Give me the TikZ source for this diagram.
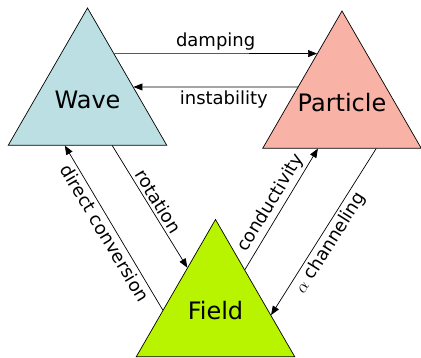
\documentclass[tikz,border=0pt]{standalone}
\usepackage{fontspec}
\setmainfont{DejaVu Sans}
\usepackage{amsmath, amssymb}
\usepackage{tikz}
\usetikzlibrary{arrows.meta, calc, shapes.geometric}

\definecolor{wavecol}{RGB}{187,223,227}
\definecolor{partcol}{RGB}{249,178,166}
\definecolor{fieldcol}{RGB}{184,244,0}

\begin{document}
\begin{tikzpicture}[x=1pt, y=-1pt,
  tri/.style={regular polygon, regular polygon sides=3, draw, line width=0.7pt,
    minimum size=183pt, inner sep=0pt, font=\fontsize{24}{28}\selectfont},
  link/.style={line width=0.7pt, -{Triangle[length=9pt, width=7pt]}},
  lbl/.style={font=\fontsize{18}{21}\selectfont},
  slbl/.style={lbl, sloped, inner sep=3pt}]
\useasboundingbox (0,0) rectangle (421,358);
\node[tri, fill=wavecol] (wave) at (87.5,99.5) {\makebox[0pt]{Wave}};
\node[tri, fill=partcol] (particle) at (342,102.5) {\makebox[0pt]{Particle}};
\node[tri, fill=fieldcol] (field) at (215.5,311) {\makebox[0pt]{Field}};
% wave <-> particle
\draw[link] ($(wave.corner 1)!0.335!(wave.corner 3)$) -- ($(particle.corner 1)!0.313!(particle.corner 2)$)
  node[midway, above, lbl] {damping};
\draw[link] ($(particle.corner 1)!0.554!(particle.corner 2)$) -- ($(wave.corner 1)!0.576!(wave.corner 3)$)
  node[pos=0.45, below, lbl] {instability};
% wave <-> field
\draw[link] ($(wave.corner 2)!0.655!(wave.corner 3)$) -- ($(field.corner 1)!0.353!(field.corner 2)$)
  node[midway, above, slbl] {rotation};
\draw[link] ($(field.corner 1)!0.66!(field.corner 2)$) -- ($(wave.corner 2)!0.358!(wave.corner 3)$)
  node[midway, below, slbl] {direct conversion};
% field <-> particle
\draw[link] ($(field.corner 1)!0.368!(field.corner 3)$) -- ($(particle.corner 2)!0.349!(particle.corner 3)$)
  node[midway, above, slbl] {conductivity};
\draw[link] ($(particle.corner 2)!0.714!(particle.corner 3)$) -- ($(field.corner 1)!0.696!(field.corner 3)$)
  node[pos=0.53, below, slbl] {$\alpha$ channeling};
\end{tikzpicture}
\end{document}
